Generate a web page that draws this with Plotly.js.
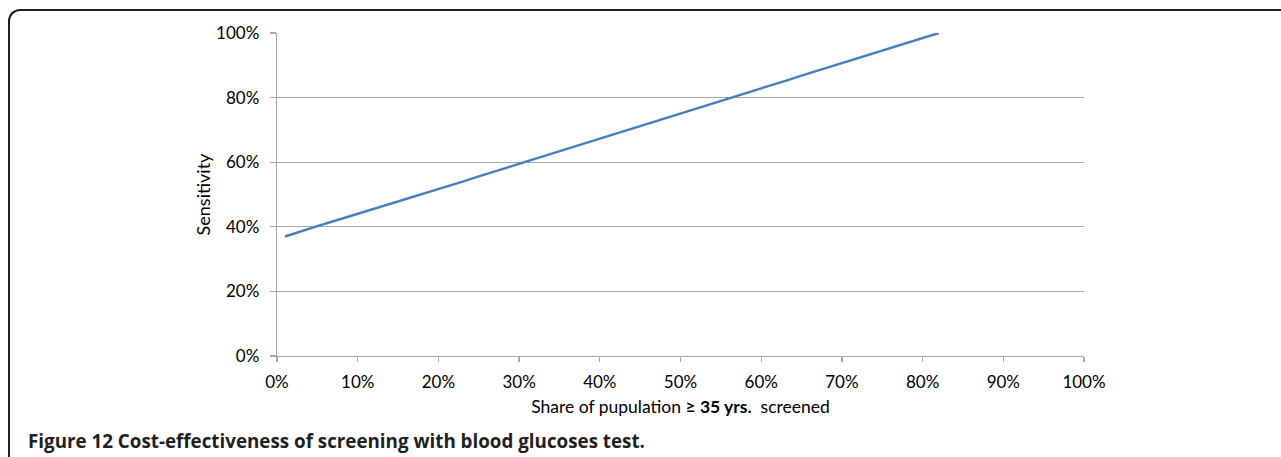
<!DOCTYPE html>
<html>
<head>
<meta charset="utf-8">
<script src="https://cdn.plot.ly/plotly-3.0.1.min.js"></script>
<style>
  html, body { margin: 0; padding: 0; background: #fff; overflow: hidden; }
  #wrap { position: relative; width: 1281px; height: 457px; }
  #frame { position: absolute; left: 8px; top: 9px; width: 1400px; height: 600px;
           border-top: 2px solid #231f20; border-left: 2px solid #231f20;
           border-top-left-radius: 12px; pointer-events: none; }
  #chart { position: absolute; left: 0; top: 0; width: 1281px; height: 457px; }
</style>
</head>
<body>
<div id="wrap">
  <div id="chart"></div>
  <div id="frame"></div>
</div>
<script>
const shareScreened = [0.01, 0.03, 0.05, 0.08, 0.10, 0.12, 0.15, 0.18, 0.20, 0.23, 0.25, 0.28, 0.30, 0.33, 0.35, 0.38, 0.40, 0.43, 0.45, 0.48, 0.50, 0.53, 0.55, 0.58, 0.60, 0.63, 0.65, 0.68, 0.70, 0.73, 0.75, 0.78, 0.80, 0.82];
const sensitivity   = [0.370, 0.387, 0.402, 0.425, 0.440, 0.456, 0.479, 0.502, 0.517, 0.540, 0.556, 0.579, 0.596, 0.618, 0.634, 0.657, 0.673, 0.696, 0.712, 0.735, 0.751, 0.774, 0.790, 0.813, 0.829, 0.852, 0.868, 0.891, 0.906, 0.929, 0.945, 0.968, 0.984, 1.000];
const tickVals = [0, 0.1, 0.2, 0.3, 0.4, 0.5, 0.6, 0.7, 0.8, 0.9, 1.0];
const tickText = ["0%", "10%", "20%", "30%", "40%", "50%", "60%", "70%", "80%", "90%", "100%"];
const yTickVals = [0, 0.2, 0.4, 0.6, 0.8, 1.0];
const yTickText = ["0%", "20%", "40%", "60%", "80%", "100%"];
const xTitle = "Share of pupulation <b>≥ 35 yrs.</b>  screened";
const yTitle = "Sensitivity";
const caption = "<b>Figure 12 Cost-effectiveness of screening with blood glucoses test.</b>";

const L = 277, R = 1084, T = 33, B = 356;
const pw = R - L, ph = B - T;

const trace = {
  x: shareScreened, y: sensitivity, type: 'scatter', mode: 'lines',
  line: { color: '#4a7ebb', width: 2.4 }, hoverinfo: 'skip'
};

const layout = {
  width: 1281, height: 457,
  margin: { l: L, r: 1281 - R, t: T, b: 457 - B },
  paper_bgcolor: '#fff', plot_bgcolor: '#fff',
  font: { family: 'Lato, "Open Sans", sans-serif', size: 17, color: '#000' },
  showlegend: false,
  xaxis: {
    range: [0, 1], tickvals: tickVals, ticktext: tickText,
    showgrid: false, zeroline: false,
    showline: true, linecolor: '#a8a8a8', linewidth: 1.3,
    ticks: 'outside', ticklen: 5, tickcolor: '#a8a8a8', tickwidth: 1.3,
    ticklabelstandoff: 5,
    tickfont: { size: 17 }, fixedrange: true,
    title: { text: xTitle, font: { size: 17.5 }, standoff: 10 }
  },
  yaxis: {
    range: [0, 1], tickvals: yTickVals, ticktext: yTickText,
    showgrid: true, gridcolor: '#a8a8a8', gridwidth: 1.3, zeroline: false,
    showline: true, linecolor: '#a8a8a8', linewidth: 1.3,
    ticks: 'outside', ticklen: 6, tickcolor: '#a8a8a8', tickwidth: 1.3,
    ticklabelstandoff: 7,
    tickfont: { size: 17 }, fixedrange: true,
    title: { text: yTitle, font: { size: 18 }, standoff: 0 }
  },
  annotations: [{
    text: caption, showarrow: false,
    xref: 'paper', yref: 'paper',
    x: (26 - L) / pw, y: (B - 441) / ph,
    xanchor: 'left', yanchor: 'middle',
    font: { family: '"Open Sans", "Noto Sans", sans-serif', size: 18.8, color: '#231f20' }
  }]
};

Plotly.newPlot('chart', [trace], layout, { displayModeBar: false, staticPlot: true });
</script>
</body>
</html>
